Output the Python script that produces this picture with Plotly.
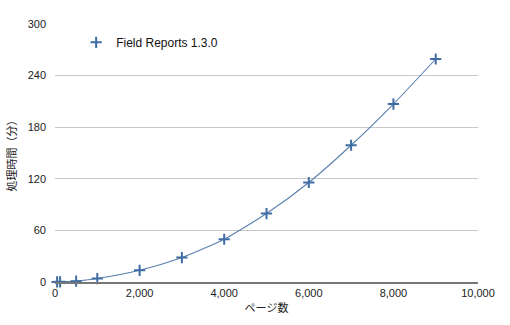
import plotly.graph_objects as go

# Processing time versus page count
pages = [50, 120, 500, 1000, 2000, 3000, 4000, 5000, 6000, 7000, 8000, 9000]
minutes = [0.1, 0.2, 1, 4, 13.6, 28.4, 49.7, 79.6, 115.7, 159, 206.9, 259.3]
series_name = "Field Reports 1.3.0"

x_ticks = [0, 2000, 4000, 6000, 8000, 10000]
x_tick_text = ["0", "2,000", "4,000", "6,000", "8,000", "10,000"]
y_ticks = [0, 60, 120, 180, 240, 300]

color = "#3f6ca3"
font = "Liberation Sans, Arial, sans-serif"
marker = dict(symbol="cross-thin", size=8, line=dict(color=color, width=2), color=color)

fig = go.Figure()
fig.add_trace(go.Scatter(
    x=pages, y=minutes, name=series_name,
    mode="lines+markers",
    line=dict(color="#5a7fae", width=1.1, shape="spline", smoothing=0.6),
    marker=marker,
    cliponaxis=False,
    showlegend=False,
))
# legend entry shows the marker only
fig.add_trace(go.Scatter(
    x=[None], y=[None], name=series_name, mode="markers", marker=marker,
))

fig.update_layout(
    width=510, height=325,
    margin=dict(l=52, r=32, t=24, b=43),
    paper_bgcolor="white", plot_bgcolor="white",
    font=dict(family=font, size=11, color="#222"),
    showlegend=True,
    legend=dict(x=0.05, y=0.985, xanchor="left", yanchor="top",
                font=dict(size=12, color="#111"), bgcolor="rgba(0,0,0,0)",
                itemwidth=30),
    xaxis=dict(range=[0, 10000], tickvals=x_ticks, ticktext=x_tick_text,
               showgrid=False, zeroline=False, showline=True,
               linecolor="#777", linewidth=1.5, ticks="",
               tickfont=dict(size=11, color="#222"),
               title=dict(text="ページ数", font=dict(size=11, family="Noto Sans CJK JP", color="#222"),
                          standoff=6)),
    yaxis=dict(range=[0, 300], tickvals=y_ticks, showgrid=True,
               gridcolor="#c8c8c8", gridwidth=1, zeroline=False, showline=False,
               ticks="", ticklabelstandoff=8,
               tickfont=dict(size=11, color="#222"),
               title=dict(text="処理時間（分）", font=dict(size=11, family="Noto Sans CJK JP", color="#222"),
                          standoff=8)),
)

fig.write_html("out.html")
